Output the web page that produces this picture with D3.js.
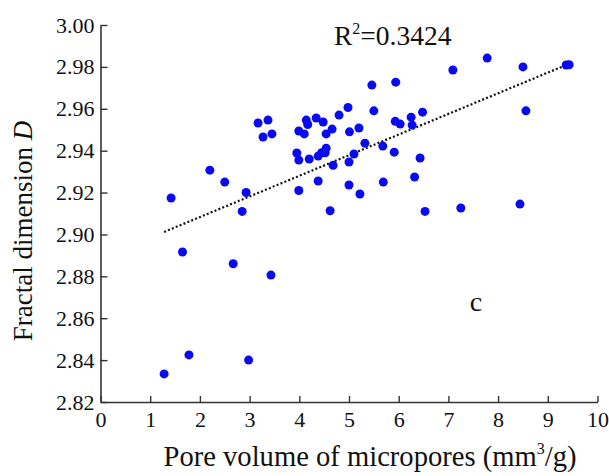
<!DOCTYPE html>
<html>
<head>
<meta charset="utf-8">
<script src="https://cdn.jsdelivr.net/npm/d3@7"></script>
<style>
html,body{margin:0;padding:0;background:#fff;}
svg text{font-family:"Liberation Serif","Times New Roman",serif;fill:#111;}
</style>
</head>
<body>
<svg id="chart" width="609" height="476"></svg>
<script>
// Data
const poreVolume = [1.28,1.42,1.65,1.78,2.20,2.50,2.67,2.85,2.93,2.98,3.17,3.27,3.37,3.43,3.45,3.95,3.99,3.99,3.99,4.10,4.14,4.17,4.20,4.34,4.38,4.38,4.45,4.48,4.52,4.54,4.54,4.62,4.66,4.68,4.80,4.98,5.01,5.00,5.00,5.10,5.20,5.22,5.32,5.46,5.50,5.68,5.69,5.91,5.93,5.94,6.03,6.25,6.27,6.32,6.43,6.48,6.53,7.09,7.25,7.78,8.44,8.50,8.56,9.37,9.43];
const fractalD = [2.8334,2.9174,2.8916,2.8425,2.9307,2.925,2.886,2.911,2.920,2.840,2.9532,2.9465,2.9546,2.8806,2.948,2.9389,2.9355,2.921,2.9494,2.948,2.9546,2.9525,2.936,2.9556,2.9374,2.9255,2.939,2.9537,2.939,2.9412,2.948,2.9113,2.9503,2.933,2.957,2.9606,2.949,2.9346,2.9236,2.9384,2.9508,2.9193,2.9436,2.9713,2.959,2.9422,2.925,2.9393,2.954,2.9727,2.9527,2.956,2.9522,2.9274,2.9365,2.9584,2.911,2.9785,2.9126,2.9842,2.9145,2.980,2.959,2.9809,2.981];
const trendX = [1.28, 9.40];
const trendY = [2.9012, 2.9812];
const xTicks = [0,1,2,3,4,5,6,7,8,9,10];
const yTicks = [2.82,2.84,2.86,2.88,2.90,2.92,2.94,2.96,2.98,3.00];
const r2Label = "0.3424";

const svg = d3.select("#chart");
const mLeft = 100.5, mRight = 597.5, mTop = 25, mBottom = 402;
const x = d3.scaleLinear().domain([0,10]).range([mLeft,mRight]);
const y = d3.scaleLinear().domain([2.82,3.00]).range([mBottom,mTop]);

// axes
const xAxis = d3.axisBottom(x).tickValues(xTicks).tickSizeInner(-6).tickSizeOuter(0).tickPadding(9).tickFormat(d3.format("d"));
const yAxis = d3.axisLeft(y).tickValues(yTicks).tickSizeInner(-7).tickSizeOuter(0).tickPadding(6).tickFormat(d3.format(".2f"));

const gx = svg.append("g").attr("transform",`translate(0,${mBottom})`).call(xAxis);
const gy = svg.append("g").attr("transform",`translate(${mLeft},0)`).call(yAxis);
[gx,gy].forEach(g=>{
  g.attr("font-family",null).attr("font-size",null);
  g.select(".domain").attr("stroke","#333").attr("stroke-width",1.6);
  g.selectAll(".tick line").attr("stroke","#333").attr("stroke-width",1.4);
  g.selectAll(".tick text").style("font-family","'Liberation Serif', serif").style("font-size","22px").attr("fill","#111");
});
gx.selectAll(".tick text").attr("dy","0.71em");

// trend line
svg.append("path")
  .datum(trendX.map((d,i)=>[d,trendY[i]]))
  .attr("d", d3.line().x(d=>x(d[0])).y(d=>y(d[1])))
  .attr("fill","none").attr("stroke","#111").attr("stroke-width",2.2)
  .attr("stroke-dasharray","2,2.2");

// points
svg.append("g").selectAll("circle")
  .data(poreVolume.map((d,i)=>[d,fractalD[i]]))
  .join("circle")
  .attr("cx",d=>x(d[0])).attr("cy",d=>y(d[1])).attr("r",4.5)
  .attr("fill","#0a0aee");

// labels
const r2 = svg.append("text").attr("x",334).attr("y",45).style("font-size","27.5px");
r2.append("tspan").text("R");
r2.append("tspan").style("font-size","16px").attr("dy",-11).text("2");
r2.append("tspan").attr("dy",11).text("=" + r2Label);

svg.append("text").attr("x",476).attr("y",311).style("font-size","28px").attr("text-anchor","middle").text("c");

const xt = svg.append("text").attr("x",370).attr("y",466).style("font-size","28.6px").attr("text-anchor","middle");
xt.append("tspan").text("Pore volume of micropores (mm");
xt.append("tspan").style("font-size","16px").attr("dy",-12).text("3");
xt.append("tspan").attr("dy",12).text("/g)");

const yt = svg.append("text").attr("transform","translate(32,231) rotate(-90)").style("font-size","27px").attr("text-anchor","middle");
yt.append("tspan").text("Fractal dimension ");
yt.append("tspan").attr("font-style","italic").text("D");
</script>
</body>
</html>
